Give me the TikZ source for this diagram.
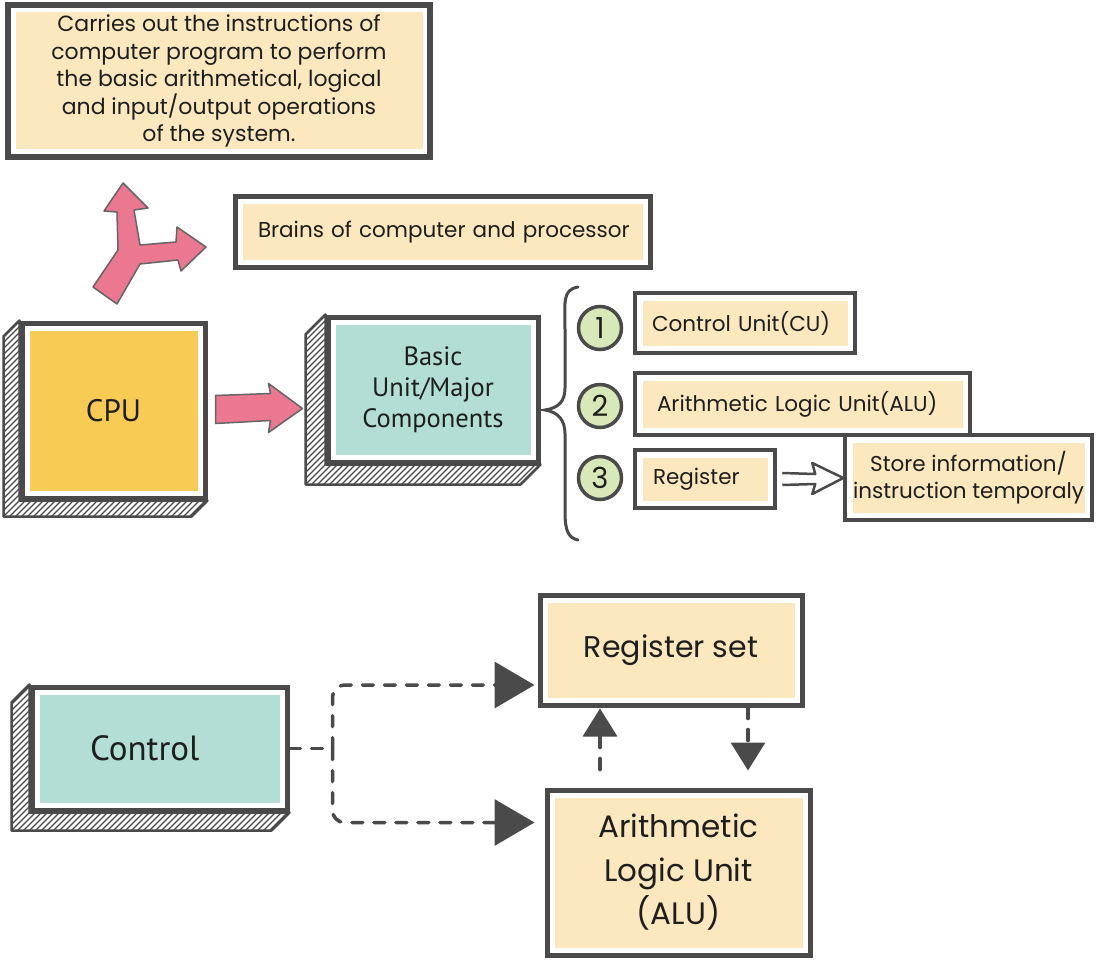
\documentclass[tikz,border=0pt]{standalone}
\usepackage{fontspec}
\setmainfont{Poppins}
\newfontfamily\humanist{PT Sans}
\usetikzlibrary{arrows.meta,calc}

\definecolor{ink}{HTML}{4A4A4A}
\definecolor{cream}{HTML}{FCE8BF}
\definecolor{gold}{HTML}{F8CB55}
\definecolor{mint}{HTML}{B3DED6}
\definecolor{rose}{HTML}{EC7791}
\definecolor{sage}{HTML}{D8E8B8}
\definecolor{txt}{HTML}{1E1E1E}

% left and bottom hatched sides of a block: #1 node, #2 depth
\newcommand\solidsides[2]{%
  \def\sideshape{(#1.north west) -- ++(-#2pt,-#2pt)
    -- ([shift={(-#2pt,-#2pt)}]#1.south west)
    -- ([shift={(-#2pt,-#2pt)}]#1.south east)
    -- (#1.south east) -- (#1.south west) -- cycle}%
  \fill[white] \sideshape;
  \begin{scope}
    \clip \sideshape;
    \foreach \k in {-240,-234,...,300}
      \draw[ink, line width=1.2pt] ([shift={(\k pt,-30pt)}]#1.south west)
        -- ++(260pt,260pt);
  \end{scope}
  \draw[ink, line width=2.5pt, line join=round] \sideshape;}

\begin{document}
\begin{tikzpicture}[x=1pt,y=-1pt,
  box/.style={draw=ink, line width=5pt, fill=white, inner sep=0pt, text=txt,
    path picture={\fill[#1]
      ([shift={(7.5pt,-7.5pt)}]path picture bounding box.north west) rectangle
      ([shift={(-7.5pt,7.5pt)}]path picture bounding box.south east);}},
  box/.default=cream,
  item/.style={box, line width=4.5pt, align=left, font=\fontsize{21.5}{27}\selectfont},
  num/.style={circle, draw=ink, line width=3.5pt, fill=sage, minimum size=43pt,
    inner sep=0pt, text=txt, font=\fontsize{29}{29}\selectfont},
  pinkshape/.style={fill=rose, draw=ink!85, line width=1.5pt, line join=round},
  dashline/.style={draw=ink, line width=3.5pt, line cap=round,
    dash pattern=on 11pt off 11pt},
]
\useasboundingbox (0,0) rectangle (1098,960);
\fill[white] (0,0) rectangle (1098,960);

% ---------- upper part ----------
\node[box, line width=6pt, minimum width=422pt, minimum height=152pt,
  align=center, font=\fontsize{22}{27.5}\selectfont] (desc) at (219,81)
  {Carries out the instructions of\\computer program to perform\\
   the basic arithmetical, logical\\and input/output operations\\of the system.};

\node[box, minimum width=415pt, minimum height=71pt, text width=369pt,
  align=left, font=\fontsize{21.5}{26}\selectfont] (brain) at (442.5,232.5)
  {\mbox{Brains of computer and processor}};

% three-way arrow
\draw[pinkshape] (123,183) -- (148,208) -- (134,210) -- (140,245) -- (176,242)
  -- (177,227) -- (206,247) -- (181,271) -- (178,260) -- (140,264)
  -- (117,304) -- (93,287) -- (118,250) -- (117,212) -- (104,211) -- cycle;

% CPU block
\node[box=gold, minimum width=183pt, minimum height=175pt,
  font=\humanist\fontsize{31}{31}\selectfont] (cpu) at (113.5,410.5) {CPU};
\solidsides{cpu}{16}

% components block
\node[box=mint, minimum width=210pt, minimum height=145pt, align=center,
  font=\humanist\fontsize{26.5}{31}\selectfont] (basic) at (433,389.5)
  {Basic\\Unit/Major\\Components};
\solidsides{basic}{20}

% CPU -> components arrow
\begin{scope}[shift={(cpu.east)}]
  \draw[pinkshape] (8,-15) -- (63,-17) -- (61,-27) -- (95,-2) -- (61,22)
    -- (63,10) -- (8,13) -- cycle;
\end{scope}

% brace
\draw[ink, line width=3pt, line cap=round]
  (578,287) .. controls (562,290) and (565,302) .. (565,330) -- (565,388)
  .. controls (565,402) and (558,408) .. (545,410)
  .. controls (558,412) and (565,420) .. (565,434) -- (565,512)
  .. controls (565,532) and (569,538) .. (578,540);

% numbered items
\node[num] (n1) at (600,328) {1};
\node[num] (n2) at (600,406) {2};
\node[num] (n3) at (600,478) {3};

\node[item, minimum width=220pt, minimum height=60pt, text width=186pt]
  (cu) at (745,323) {Control Unit(CU)};
\node[item, minimum width=335pt, minimum height=62pt, text width=291pt]
  (alu1) at (802.5,404) {Arithmetic Logic Unit(ALU)};
\node[item, minimum width=140pt, minimum height=58pt, text width=104pt]
  (reg) at (705,479) {Register};
\node[item, minimum width=247pt, minimum height=85pt, align=center]
  (store) at (968.5,477.5) {Store information/\\instruction temporaly};

% register -> store hollow arrow
\begin{scope}[shift={(reg.east)}]
  \draw[ink, line width=2.5pt, line join=round, fill=white]
    (5,-6) -- (38,-5) -- (35,-16) -- (66,-1) -- (35,15) -- (38,5) -- (5,6);
\end{scope}

% ---------- lower part ----------
\node[box=mint, minimum width=255pt, minimum height=123pt, text width=139pt,
  align=left, font=\humanist\fontsize{35}{35}\selectfont] (ctrl)
  at (159.5,748.5) {Control};
\solidsides{ctrl}{18}

\node[box, minimum width=262pt, minimum height=110pt,
  font=\fontsize{30}{30}\selectfont] (regset) at (671,650) {Register set};
\node[box, minimum width=263pt, minimum height=165pt, align=center,
  font=\fontsize{31}{43.5}\selectfont] (alu) at (678.5,872.5)
  {Arithmetic\\Logic Unit\\(ALU)};

% control lines
\draw[dashline] (ctrl.east) -- ++(43,0) coordinate (j);
\draw[dashline, rounded corners=12pt,
  -{Triangle[length=40pt,width=46pt,fill=ink]}, shorten >=3pt]
  (j) |- ([yshift=-35pt]regset.west);
\draw[dashline, rounded corners=12pt,
  -{Triangle[length=40pt,width=46pt,fill=ink]}, shorten >=10pt]
  (j) |- ([yshift=50pt]alu.west);

% data lines between register set and ALU
\coordinate (ux) at (600,0);
\coordinate (dx) at (748,0);
\draw[dashline, -{Triangle[length=28pt,width=34pt,fill=ink]},
  shorten <=18pt, shorten >=1pt] (alu.north -| ux) -- (regset.south -| ux);
\draw[dashline, -{Triangle[length=28pt,width=34pt,fill=ink]},
  shorten >=17pt] (regset.south -| dx) -- (alu.north -| dx);
\end{tikzpicture}
\end{document}
